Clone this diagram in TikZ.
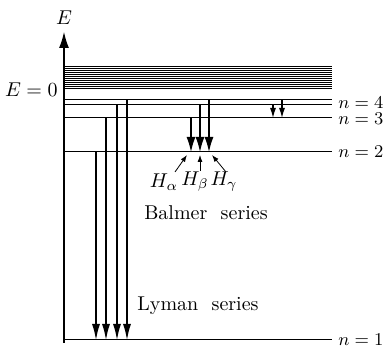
\documentclass[tikz,border=0pt]{standalone}
\usetikzlibrary{arrows.meta,positioning}
\tikzset{
  level/.style={line width=0.5pt},
  band/.style={line width=0.35pt},
  nlab/.style={inner sep=0pt,font=\fontsize{9}{10}\selectfont},
  lyman/.style={line width=0.7pt,-{Latex[length=8pt,width=4pt]}},
  balmer/.style={line width=0.7pt,-{Latex[length=7.5pt,width=4.5pt]}},
  paschen/.style={line width=0.6pt,-{Latex[length=5pt,width=3pt]}},
  ptr/.style={line width=0.4pt,-{Latex[length=3.5pt,width=2.5pt]}}
}

\begin{document}
\begin{tikzpicture}[x=0.5pt,y=-0.5pt]
    \useasboundingbox (0,0) rectangle (386,347);
    % energy axis
    \coordinate (ax0) at (64,343);
    \coordinate (ax1) at (64,32);
    \draw[line width=0.6pt,-{Latex[length=8pt,width=5pt]}] (ax0) -- (ax1);
    \node (elab) at (64,18) {$E$};
    % continuum
    \foreach \y in {66,68,...,88} {
      \draw[band] (64,\y) -- (332,\y);
    }
    \node[anchor=east,inner sep=1pt] (ezero) at (60,90) {$E=0$};
    % bound levels
    \foreach \n/\y in {5/100,4/105,3/118,2/152,1/340} {
      \draw[level] (64,\y) coordinate (n\n) -- (332,\y) coordinate (e\n);
    }
    \foreach \n/\dy in {4/-2,3/1,2/0,1/0} {
      \node[nlab,anchor=west] (lab\n) at ([xshift=3pt,yshift=-\dy*0.5pt]e\n) {$n=\n$};
    }
    % Lyman series
    \foreach \x/\n in {96/2,106/3,117/4,127/5} {
      \draw[lyman] (\x,0 |- n\n) -- (\x,0 |- n1);
    }
    % Balmer series
    \foreach \x/\n in {191/3,200/4,209/5} {
      \draw[balmer] (\x,0 |- n\n) -- (\x,0 |- n2);
    }
    % Paschen
    \foreach \x/\n in {273/4,282/5} {
      \draw[paschen] (\x,0 |- n\n) -- (\x,0 |- n3);
    }
    % line names
    \node (ha) at (164,182) {$H_\alpha$};
    \node (hb) at (195,182) {$H_\beta$};
    \node (hg) at (224,182) {$H_\gamma$};
    \coordinate (ta) at (187,155);
    \coordinate (tb) at (200,155);
    \coordinate (tg) at (212,155);
    \draw[ptr] (175,172) -- (ta);
    \draw[ptr] (200,171) -- (tb);
    \draw[ptr] (226,172) -- (tg);
    \node (balmer) at (206,213) {Balmer\ \ series};
    \node (lyman) at (198,306) {Lyman\ \ series};
\end{tikzpicture}
\end{document}
